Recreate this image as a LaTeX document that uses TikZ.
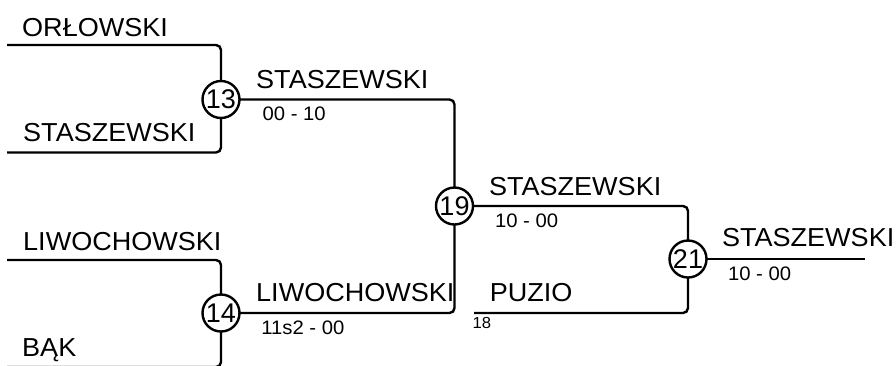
\documentclass[tikz,border=0pt]{standalone}
\usepackage{fontspec}
\setmainfont{Liberation Sans}
\newfontfamily\labfont[FakeStretch=1.04]{Liberation Sans}
\newfontfamily\smlfont[FakeStretch=1.04]{Liberation Sans}
\begin{document}
\begin{tikzpicture}[x=1pt,y=-1pt,
  wire/.style={line width=2.4pt, rounded corners=5pt},
  matchnode/.style={circle, draw, line width=2.4pt, minimum size=37pt, inner sep=0pt, fill=white,
    font=\fontsize{27}{30}\selectfont},
  bigname/.style={anchor=base west, inner sep=0pt, font=\labfont\fontsize{26}{30}\selectfont},
  score/.style={anchor=base west, inner sep=0pt, font=\smlfont\fontsize{19.5}{22}\selectfont},
  seed/.style={anchor=base west, inner sep=0pt, font=\smlfont\fontsize{16}{18}\selectfont}]
\useasboundingbox (0,0) rectangle (896,365);
\clip (0,0) rectangle (896,365);

% coordinates of free ends
\coordinate (inA) at (7,45);
\coordinate (inB) at (7,152.5);
\coordinate (inC) at (7,260);
\coordinate (inD) at (7,367);
\coordinate (inE) at (474,313);
\coordinate (outF) at (865,259);

% match circles (positions)
\coordinate (p13) at (221,99.5);
\coordinate (p14) at (221,313);
\coordinate (p19) at (454.5,206);
\coordinate (p21) at (688,259);

% connectors
\draw[wire] (inA) -| (p13);
\draw[wire] (inB) -| (p13);
\draw[wire] (inC) -| (p14);
\draw[wire] (inD) -| (p14);
\draw[wire] (p13) -| (p19);
\draw[wire] (p14) -| (p19);
\draw[wire] (p19) -| (p21);
\draw[wire] (inE) -| (p21);
\draw[wire] (p21) -- (outF);

% match circles
\node[matchnode] (m13) at (p13) {13};
\node[matchnode] (m14) at (p14) {14};
\node[matchnode] (m19) at (p19) {19};
\node[matchnode] (m21) at (p21) {21};

% names
\node[bigname] (tOrl) at (22,36.8) {ORŁOWSKI};
\node[bigname] (tSta1) at (23,141.5) {STASZEWSKI};
\node[bigname] (tLiw1) at (23,250) {LIWOCHOWSKI};
\node[bigname] (tBak) at (22,356.5) {BĄK};
\node[bigname] (tSta2) at (256,88.5) {STASZEWSKI};
\node[bigname] (tLiw2) at (256,301.5) {LIWOCHOWSKI};
\node[bigname] (tSta3) at (488.8,195) {STASZEWSKI};
\node[bigname] (tPuz) at (489.6,301.8) {PUZIO};
\node[bigname] (tSta4) at (721.8,246.5) {STASZEWSKI};

% scores
\node[score] (s13) at (262.4,120) {00 - 10};
\node[score] (s14) at (261.2,334) {11s2 - 00};
\node[score] (s19) at (494.8,227.5) {10 - 00};
\node[score] (s21) at (727.8,280) {10 - 00};
\node[seed] (s18) at (472.3,328) {18};
\end{tikzpicture}
\end{document}
